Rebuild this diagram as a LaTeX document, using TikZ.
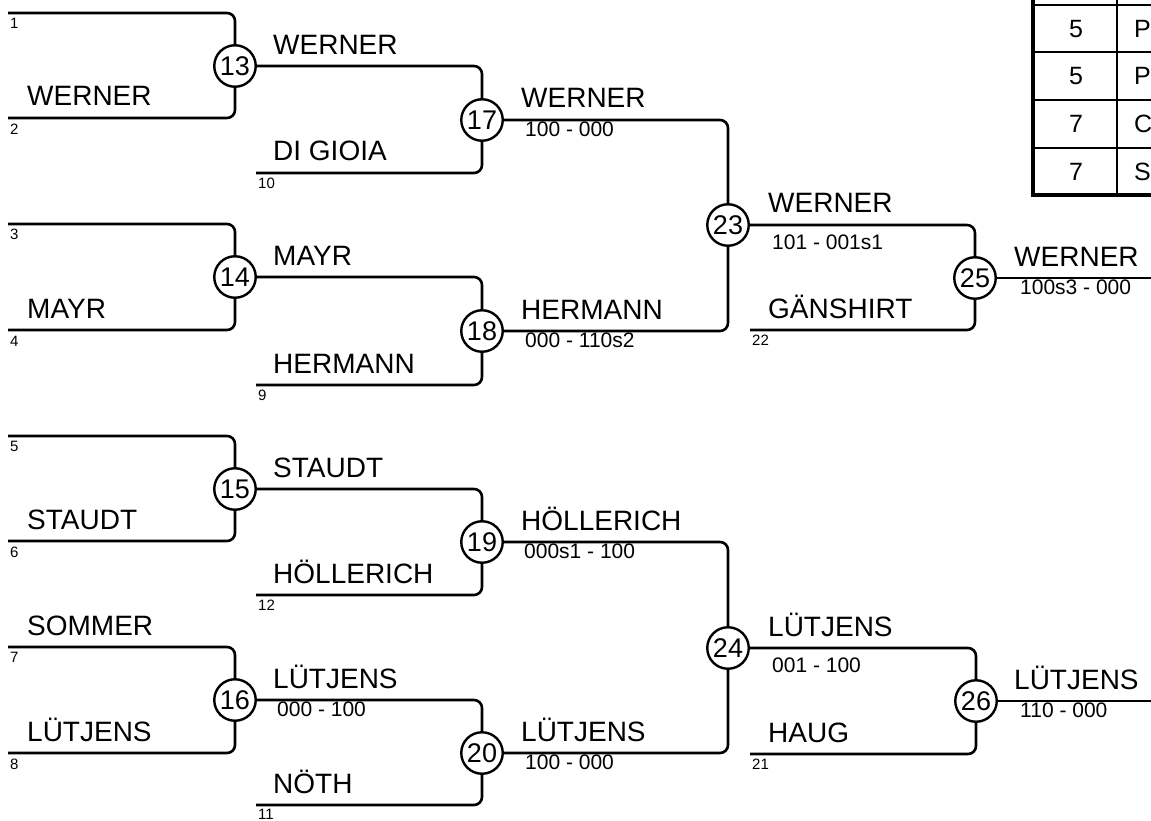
\documentclass[tikz,border=0pt]{standalone}
\usepackage{fontspec}
\setmainfont{Liberation Sans}
\begin{document}
\begin{tikzpicture}[x=1pt,y=-1pt,
  wire/.style={line width=2.6pt,rounded corners=8pt},
  matchcircle/.style={circle,draw,line width=2.4pt,minimum size=41.5pt,inner sep=0pt,fill=white,font=\fontsize{27}{29}\selectfont},
  pname/.style={anchor=base west,inner sep=0pt,font=\fontsize{28}{30}\selectfont},
  pscore/.style={anchor=north west,inner sep=0pt,font=\fontsize{21}{23}\selectfont},
  pseed/.style={anchor=north west,inner sep=0pt,font=\fontsize{15}{17}\selectfont},
  tcell/.style={inner sep=0pt,font=\fontsize{25}{27}\selectfont},
  tline/.style={line width=2.4pt},
  tborder/.style={line width=4.5pt}]
\useasboundingbox (0,0) rectangle (1151,821);
\begin{scope}
\clip (0,0) rectangle (1151,821);
% match circles
\node[matchcircle] (m13) at (235,66) {13};
\node[matchcircle] (m14) at (235,277) {14};
\node[matchcircle] (m15) at (235,489) {15};
\node[matchcircle] (m16) at (235,700) {16};
\node[matchcircle] (m17) at (482,120) {17};
\node[matchcircle] (m18) at (482,331) {18};
\node[matchcircle] (m19) at (482,542) {19};
\node[matchcircle] (m20) at (482,753) {20};
\node[matchcircle] (m23) at (728,225) {23};
\node[matchcircle] (m24) at (728,648) {24};
\node[matchcircle] (m25) at (975,278) {25};
\node[matchcircle] (m26) at (976,701) {26};
% line starts
\coordinate (s1) at (8,13);
\coordinate (s2) at (8,118);
\coordinate (s3) at (8,224);
\coordinate (s4) at (8,330);
\coordinate (s5) at (8,436);
\coordinate (s6) at (8,541);
\coordinate (s7) at (8,647);
\coordinate (s8) at (8,753);
\coordinate (s10) at (256,173);
\coordinate (s9) at (256,385);
\coordinate (s12) at (256,595);
\coordinate (s11) at (256,805);
\coordinate (s22) at (750,330);
\coordinate (s21) at (750,754);
\coordinate (e25) at (1160,278);
\coordinate (e26) at (1160,701);
% wires round 1
\draw[wire] (s1) -| (m13);
\draw[wire] (s2) -| (m13);
\draw[wire] (s3) -| (m14);
\draw[wire] (s4) -| (m14);
\draw[wire] (s5) -| (m15);
\draw[wire] (s6) -| (m15);
\draw[wire] (s7) -| (m16);
\draw[wire] (s8) -| (m16);
% round 2
\draw[wire] (m13.east) -| (m17);
\draw[wire] (s10) -| (m17);
\draw[wire] (m14.east) -| (m18);
\draw[wire] (s9) -| (m18);
\draw[wire] (m15.east) -| (m19);
\draw[wire] (s12) -| (m19);
\draw[wire] (m16.east) -| (m20);
\draw[wire] (s11) -| (m20);
% round 3
\draw[wire] (m17.east) -| (m23);
\draw[wire] (m18.east) -| (m23);
\draw[wire] (m19.east) -| (m24);
\draw[wire] (m20.east) -| (m24);
% round 4
\draw[wire] (m23.east) -| (m25);
\draw[wire] (s22) -| (m25);
\draw[wire] (m24.east) -| (m26);
\draw[wire] (s21) -| (m26);
% round 5
\draw[wire] (m25.east) -- (e25);
\draw[wire] (m26.east) -- (e26);
% seed numbers
\node[pseed] (n1) at (10,18) {1};
\node[pseed] (n2) at (10,124) {2};
\node[pseed] (n3) at (10,229) {3};
\node[pseed] (n4) at (10,336) {4};
\node[pseed] (n5) at (10,441) {5};
\node[pseed] (n6) at (10,547) {6};
\node[pseed] (n7) at (10,652) {7};
\node[pseed] (n8) at (10,759) {8};
\node[pseed] (n10) at (258,178) {10};
\node[pseed] (n9) at (258,390) {9};
\node[pseed] (n12) at (258,600) {12};
\node[pseed] (n11) at (258,809) {11};
\node[pseed] (n22) at (752,335) {22};
\node[pseed] (n21) at (752,759) {21};
% names round 1
\node[pname] (a2) at (27,106) {WERNER};
\node[pname] (a4) at (27,318) {MAYR};
\node[pname] (a6) at (27,529) {STAUDT};
\node[pname] (a7) at (27,635) {SOMMER};
\node[pname] (a8) at (27,741) {LÜTJENS};
% names round 2
\node[pname] (b13) at (273,55) {WERNER};
\node[pname] (b10) at (273,161) {DI GIOIA};
\node[pname] (b14) at (273,265) {MAYR};
\node[pname] (b9) at (273,373) {HERMANN};
\node[pname] (b15) at (273,477) {STAUDT};
\node[pname] (b12) at (273,583) {HÖLLERICH};
\node[pname] (b16) at (273,688) {LÜTJENS};
\node[pname] (b11) at (273,793) {NÖTH};
\node[pscore] (c16) at (277,702) {000 - 100};
% round 3
\node[pname] (b17) at (521,108) {WERNER};
\node[pscore] (c17) at (525,122) {100 - 000};
\node[pname] (b18) at (521,319) {HERMANN};
\node[pscore] (c18) at (525,333) {000 - 110s2};
\node[pname] (b19) at (521,530) {HÖLLERICH};
\node[pscore] (c19) at (524,544) {000s1 - 100};
\node[pname] (b20) at (521,741) {LÜTJENS};
\node[pscore] (c20) at (525,755) {100 - 000};
% round 4
\node[pname] (b23) at (768,213) {WERNER};
\node[pscore] (c23) at (772,235) {101 - 001s1};
\node[pname] (b22) at (768,318) {GÄNSHIRT};
\node[pname] (b24) at (768,636) {LÜTJENS};
\node[pscore] (c24) at (772,658) {001 - 100};
\node[pname] (b21) at (768,742) {HAUG};
% round 5
\node[pname] (b25) at (1014,266) {WERNER};
\node[pscore] (c25) at (1020,280) {100s3 - 000};
\node[pname] (b26) at (1014,689) {LÜTJENS};
\node[pscore] (c26) at (1020,703) {110 - 000};
% table
\draw[tline] (1117,-50) -- (1117,195);
\draw[tline] (1033,5) -- (1170,5);
\draw[tline] (1033,52) -- (1170,52);
\draw[tline] (1033,100) -- (1170,100);
\draw[tline] (1033,148) -- (1170,148);
\draw[tborder] (1033,-50) -- (1033,195) -- (1170,195);
\node[tcell] (t1) at (1076,29) {5};
\node[tcell] (t2) at (1076,76) {5};
\node[tcell] (t3) at (1076,124) {7};
\node[tcell] (t4) at (1076,172) {7};
\node[tcell,anchor=west] (t5) at (1134,29) {P};
\node[tcell,anchor=west] (t6) at (1134,76) {P};
\node[tcell,anchor=west] (t7) at (1134,124) {C};
\node[tcell,anchor=west] (t8) at (1134,172) {S};
\end{scope}
\end{tikzpicture}
\end{document}
